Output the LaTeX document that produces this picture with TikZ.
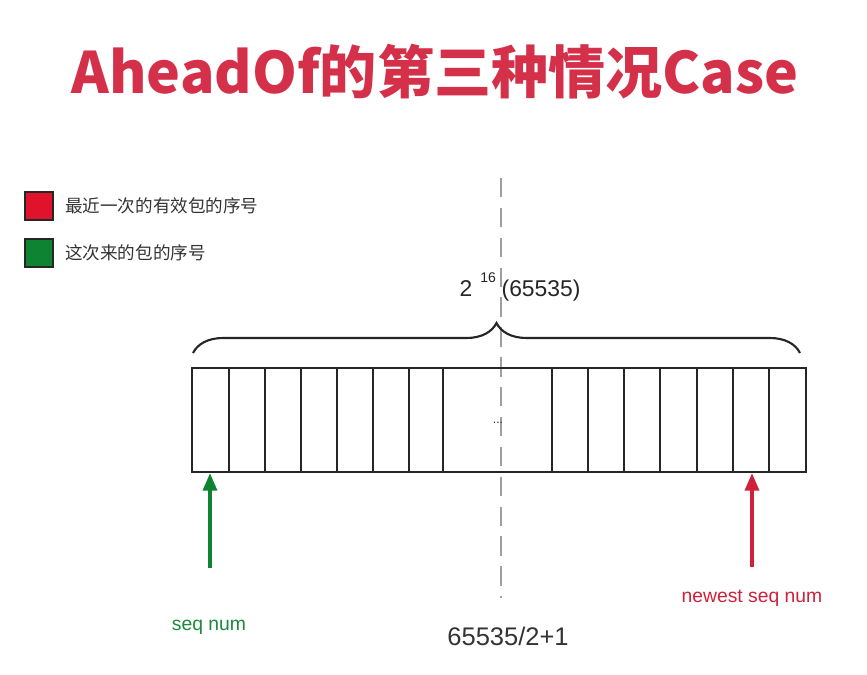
\documentclass[tikz,border=0pt]{standalone}
\usepackage{fontspec}
\setmainfont{Liberation Sans}
\newfontfamily\cjk{Noto Sans CJK SC}
\usetikzlibrary{arrows.meta,decorations.pathreplacing}
\definecolor{titlered}{HTML}{D4304A}
\definecolor{boxred}{HTML}{E0122C}
\definecolor{boxgreen}{HTML}{0E8432}
\definecolor{labred}{HTML}{D0203A}
\definecolor{labgreen}{HTML}{1A8A3A}
\definecolor{inkgray}{HTML}{333333}
\tikzset{
  keybox/.style={draw=black!85,line width=1.2pt,minimum size=0.56cm,inner sep=0pt},
  keytext/.style={anchor=west,font=\cjk\fontsize{10}{12}\selectfont,text=inkgray},
  cellline/.style={line width=1.3pt,draw=black!85},
  seqarrow/.style={-{Triangle[width=8pt,length=10pt]},line width=1.9pt},
}
\begin{document}
\begin{tikzpicture}[x=0.02cm,y=-0.02cm]
  \useasboundingbox (0,0) rectangle (867,674);
  % title
  \node[font=\cjk\bfseries\fontsize{32.5}{36}\selectfont,text=titlered] (title) at (435,72) {AheadOf的第三种情况Case};
  % legend
  \node[keybox,fill=boxred] (keyred) at (39,206) {};
  \node[keybox,fill=boxgreen] (keygreen) at (39,253) {};
  \node[keytext] (txtred) at (59,206) {最近一次的有效包的序号};
  \node[keytext] (txtgreen) at (59,253) {这次来的包的序号};
  % middle line
  \draw[gray!75,line width=1.4pt,dash pattern=on 11pt off 6pt] (501,178) -- (501,598);
  % sequence space
  \node[cellline,draw,minimum width=614*0.02cm,minimum height=104*0.02cm,inner sep=0pt] (bar) at (499,420) {};
  \foreach \x in {229,265,301,337,373,409,443,552,588,624,660,697,733,769}
    \draw[cellline] (\x,368) -- (\x,472);
  \node[font=\scriptsize,text=inkgray] (dots) at (498,423) {...};
  \draw[line width=1.2pt,black!85,decorate,decoration={brace,amplitude=30*0.02cm}] (193,353) -- (800,353);
  \node[font=\fontsize{13}{15}\selectfont,text=black!85] (size) at (520,287) {2\hspace{0.35em}\raisebox{1.1ex}{\fontsize{8}{9}\selectfont 16}\hspace{0.25em}(65535)};
  % pointers
  \coordinate (gtail) at (210,568);
  \coordinate (rtail) at (752,567);
  \draw[seqarrow,boxgreen] (gtail) -- (gtail |- bar.south);
  \draw[seqarrow,labred] (rtail) -- (rtail |- bar.south);
  \node[font=\fontsize{11}{13}\selectfont,text=labgreen] (seqnum) at (209,627) {seq num};
  \node[font=\fontsize{11}{13}\selectfont,text=labred] (newest) at (752,598) {newest seq num};
  \node[font=\fontsize{14.5}{17}\selectfont,text=inkgray] (half) at (508,636) {65535/2+1};
\end{tikzpicture}
\end{document}
